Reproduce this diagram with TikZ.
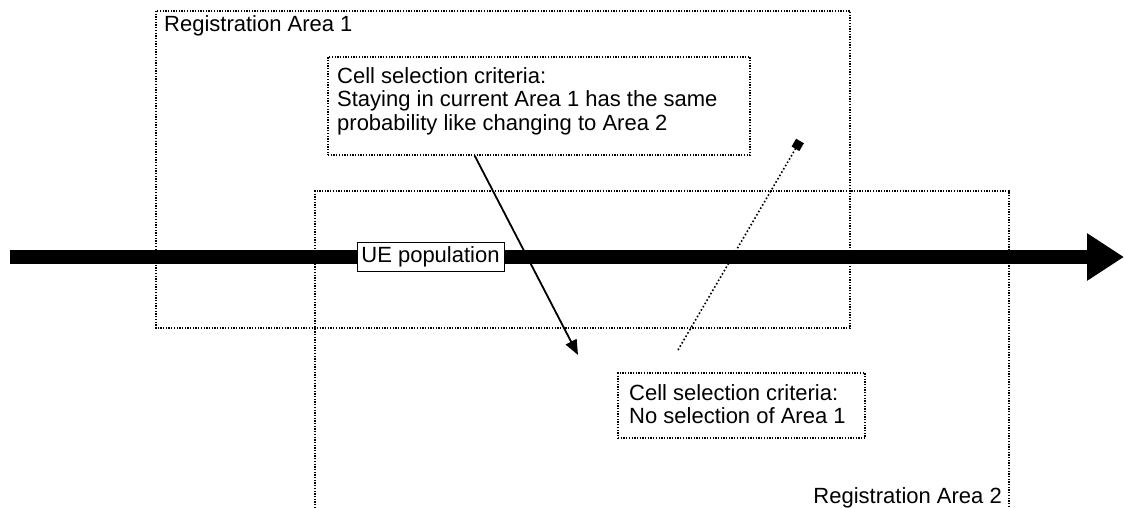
\documentclass[tikz,border=0pt]{standalone}
\usepackage{fontspec}
\setmainfont{Liberation Sans}
\usetikzlibrary{arrows.meta,calc}
\begin{document}
\begin{tikzpicture}[x=1pt,y=-1pt,
  font=\fontsize{22}{23.5}\selectfont,
  dotline/.style={line width=1.3pt,dash pattern=on 1.3pt off 1.4pt},
  areabox/.style={dotline},
  critframe/.style={dotline,draw,inner sep=0pt},
  crittext/.style={anchor=north west,align=left,inner sep=0pt},
  uebox/.style={draw,fill=white,line width=1pt,inner sep=2pt,minimum width=147pt,minimum height=29pt},
  bigarrow/.style={line width=14pt,-{Triangle[length=37pt,width=45pt]}},
  thinarrow/.style={line width=1.8pt,-{Triangle[length=15pt,width=12pt]}},
  sqline/.style={line width=1.6pt,dash pattern=on 1.6pt off 2.2pt,-{Square[length=9pt,width=9pt]}}]
\useasboundingbox (0,0) rectangle (1124,508);

% registration areas
\draw[areabox] (156,11) rectangle (850,328);
\draw[areabox] (315,508) -- (315,191) -- (1009,191) -- (1009,508);
\node[anchor=base west,inner sep=0pt] (ra1) at (164,31.5) {Registration Area 1};
\node[anchor=base east,inner sep=0pt] (ra2) at (1002,503) {Registration Area 2};

% movement of the UE population
\coordinate (flowstart) at (10,257);
\coordinate (flowend) at (1124,257);
\draw[bigarrow] (flowstart) -- (flowend);
\node[uebox] (ue) at (430.5,256.5) {UE population};

% cell selection criteria
\node[critframe,minimum width=422pt,minimum height=98pt] (crit1) at (539,106) {};
\node[crittext] (crit1text) at (337,67.3)
  {Cell selection criteria:\\Staying in current Area 1 has the same\\probability like changing to Area 2};
\node[critframe,minimum width=247pt,minimum height=65pt] (crit2) at (741.5,405.5) {};
\node[crittext] (crit2text) at (629,384.3)
  {Cell selection criteria:\\No selection of Area 1};

\coordinate (c1out) at ($(crit1.south west)!0.348!(crit1.south east)$);
\coordinate (c1tip) at (578,355);
\draw[thinarrow] (c1out) -- (c1tip);

\coordinate (c2low) at (678,350);
\coordinate (c2top) at (800,141);
\draw[sqline] (c2low) -- (c2top);
\end{tikzpicture}
\end{document}
